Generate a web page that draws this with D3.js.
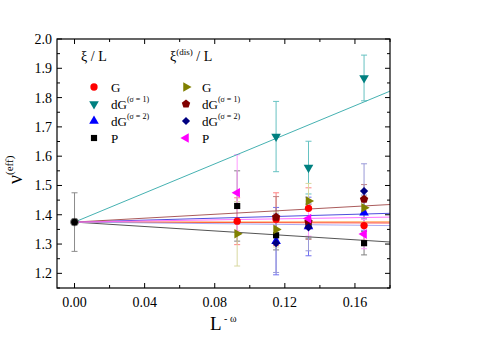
<!DOCTYPE html>
<html lang="en">
<head>
<meta charset="UTF-8">
<title>nu eff vs L^-omega</title>
<script src="https://d3js.org/d3.v7.min.js"></script>
<style>
  body { margin: 0; background: #fff; }
  text { font-family: "Liberation Serif", "DejaVu Serif", serif; fill: #000; }
</style>
</head>
<body>
<svg id="chart" width="491" height="347"></svg>
<script>
// x positions of the four system sizes (L^-omega)
const xVals = [0.0928, 0.115, 0.1335, 0.1652];

// extrapolated value at L -> infinity
const nuInf = 1.375, nuInfErr = 0.1;

// series values (null = no point) and their error bars
const gVal   = [1.378, 1.385, 1.422, 1.363];
const gErr   = [0.08, 0.09, 0.07, 0.05];
const dg1Val = [null, 1.667, 1.561, 1.867];
const dg1Err = [null, 0.12, 0.09, 0.078];
const dg2Val = [null, 1.31, 1.36, 1.407];
const dg2Err = [null, 0.115, 0.1, 0.06];
const pVal   = [1.43, 1.33, 1.37, 1.303];
const pErr   = [0.12, 0.05, 0.05, 0.04];
const gdVal   = [1.335, 1.35, 1.447, 1.424];
const gdErr   = [0.11, 0.06, 0.06, 0.04];
const dgd1Val = [null, 1.392, 1.376, 1.453];
const dgd1Err = [null, 0.07, 0.06, 0.05];
const dgd2Val = [null, 1.303, 1.357, 1.481];
const dgd2Err = [null, 0.1, 0.08, 0.093];
const pdVal   = [1.475, null, 1.387, 1.334];
const pdErr   = [0.13, null, 0.06, 0.05];

// linear fits through nuInf, value at the right edge (x = 0.18)
const fitEnds = [1.372, 1.822, 1.405, 1.307, 1.376, 1.435, 1.363, 1.392];

const xTicks = [0.00, 0.04, 0.08, 0.12, 0.16];
const yTicks = [1.2, 1.3, 1.4, 1.5, 1.6, 1.7, 1.8, 1.9, 2.0];

const series = [
  { key: "G",    vals: gVal,    errs: gErr,    color: "#ff0000", errColor: "#ff8080", fitColor: "#ff2020", shape: "circle" },
  { key: "dG1",  vals: dg1Val,  errs: dg1Err,  color: "#008080", errColor: "#66c2c2", fitColor: "#30a8a8", shape: "down" },
  { key: "dG2",  vals: dg2Val,  errs: dg2Err,  color: "#0000ff", errColor: "#7070f0", fitColor: "#3a3ad8", shape: "up" },
  { key: "P",    vals: pVal,    errs: pErr,    color: "#000000", errColor: "#808080", fitColor: "#404040", shape: "square" },
  { key: "Gd",   vals: gdVal,   errs: gdErr,   color: "#808000", errColor: "#d8d8a0", fitColor: "#ff9a40", shape: "right" },
  { key: "dGd1", vals: dgd1Val, errs: dgd1Err, color: "#800000", errColor: "#c08080", fitColor: "#a04848", shape: "pentagon" },
  { key: "dGd2", vals: dgd2Val, errs: dgd2Err, color: "#000080", errColor: "#9a9ad8", fitColor: "#a0a0f0", shape: "diamond" },
  { key: "Pd",   vals: pdVal,   errs: pdErr,   color: "#ff00ff", errColor: "#ff9cff", fitColor: "#ff60ff", shape: "left" }
];

const svg = d3.select("#chart");
const margin = { left: 57, right: 101, top: 39, bottom: 59 };
const W = 491 - margin.left - margin.right;
const H = 347 - margin.top - margin.bottom;

const x = d3.scaleLinear().domain([-0.01, 0.18]).range([0, W]);
const y = d3.scaleLinear().domain([1.15, 2.0]).range([H, 0]);

const g = svg.append("g").attr("transform", `translate(${margin.left},${margin.top})`);

// marker shapes
function pentagon(r) {
  const pts = d3.range(5).map(i => {
    const a = -Math.PI / 2 + i * 2 * Math.PI / 5;
    return [r * Math.cos(a), r * Math.sin(a)];
  });
  return "M" + pts.join("L") + "Z";
}
function markerPath(shape) {
  switch (shape) {
    case "circle": return d3.symbol(d3.symbolCircle, 42)();
    case "square": return d3.symbol(d3.symbolSquare, 38)();
    case "diamond": return d3.symbol(d3.symbolSquare, 34)();
    case "pentagon": return pentagon(4.4);
    default: return d3.symbol(d3.symbolTriangle, 40)();
  }
}
const rotation = { down: 180, right: 90, left: -90, up: 0, diamond: 45 };

// error bars
series.forEach(s => {
  s.vals.forEach((v, i) => {
    if (v == null) return;
    const px = x(xVals[i]);
    const eg = g.append("g").attr("stroke", s.errColor).attr("stroke-width", 1);
    eg.append("line").attr("x1", px).attr("x2", px).attr("y1", y(v - s.errs[i])).attr("y2", y(v + s.errs[i]));
    [v - s.errs[i], v + s.errs[i]].forEach(e => {
      eg.append("line").attr("x1", px - 3).attr("x2", px + 3).attr("y1", y(e)).attr("y2", y(e));
    });
  });
});

// infinite-size point error bar
const ig = g.append("g").attr("stroke", "#8c8c8c").attr("stroke-width", 1);
ig.append("line").attr("x1", x(0)).attr("x2", x(0)).attr("y1", y(nuInf - nuInfErr)).attr("y2", y(nuInf + nuInfErr));
[nuInf - nuInfErr, nuInf + nuInfErr].forEach(e => {
  ig.append("line").attr("x1", x(0) - 3).attr("x2", x(0) + 3).attr("y1", y(e)).attr("y2", y(e));
});

// fit lines
series.forEach((s, k) => {
  g.append("line")
    .attr("x1", x(0)).attr("y1", y(nuInf))
    .attr("x2", x(0.18)).attr("y2", y(fitEnds[k]))
    .attr("stroke", s.fitColor).attr("stroke-width", 0.9);
});

// markers
series.forEach(s => {
  s.vals.forEach((v, i) => {
    if (v == null) return;
    g.append("path")
      .attr("d", markerPath(s.shape))
      .attr("transform", `translate(${x(xVals[i])},${y(v)}) rotate(${rotation[s.shape] || 0})`)
      .attr("fill", s.color);
  });
});

g.append("circle").attr("cx", x(0)).attr("cy", y(nuInf)).attr("r", 4)
  .attr("fill", "#000").attr("stroke", "#888").attr("stroke-width", 0.8);

// frame
g.append("rect").attr("width", W).attr("height", H)
  .attr("fill", "none").attr("stroke", "#000").attr("stroke-width", 1.2);

// ticks (inward, on all four sides)
const xMinor = d3.range(0, 0.181, 0.02);
const yMinor = d3.range(1.15, 2.001, 0.05);
const tg = g.append("g").attr("stroke", "#000").attr("stroke-width", 1);
xMinor.forEach(t => {
  const major = xTicks.some(m => Math.abs(m - t) < 1e-6);
  const len = major ? 5 : 3;
  tg.append("line").attr("x1", x(t)).attr("x2", x(t)).attr("y1", H).attr("y2", H - len);
  tg.append("line").attr("x1", x(t)).attr("x2", x(t)).attr("y1", 0).attr("y2", len);
});
yMinor.forEach(t => {
  const major = yTicks.some(m => Math.abs(m - t) < 1e-6);
  const len = major ? 5 : 3;
  tg.append("line").attr("x1", 0).attr("x2", len).attr("y1", y(t)).attr("y2", y(t));
  tg.append("line").attr("x1", W).attr("x2", W - len).attr("y1", y(t)).attr("y2", y(t));
});

// tick labels
g.selectAll("text.xl").data(xTicks).enter().append("text")
  .attr("class", "xl").attr("x", d => x(d)).attr("y", H + 19)
  .attr("text-anchor", "middle").attr("font-size", 14)
  .text(d => d3.format(".2f")(d));
g.selectAll("text.yl").data(yTicks).enter().append("text")
  .attr("class", "yl").attr("x", -5).attr("y", d => y(d) + 5)
  .attr("text-anchor", "end").attr("font-size", 14)
  .text(d => d3.format(".1f")(d));

// axis titles
const xt = svg.append("text").attr("x", 210).attr("y", 330).attr("font-size", 19);
xt.append("tspan").text("L");
xt.append("tspan").attr("dy", -8).attr("font-size", 10).text(" - ω");

const yt = svg.append("text").attr("transform", "translate(22,184) rotate(-90)").attr("font-size", 20);
yt.append("tspan").text("ν");
yt.append("tspan").attr("dy", -9).attr("font-size", 11).text("(eff)");

// legend
const legend = svg.append("g");
legend.append("text").attr("x", 81).attr("y", 61).attr("font-size", 14).text("ξ / L");
const h2 = legend.append("text").attr("x", 170).attr("y", 61).attr("font-size", 14);
h2.append("tspan").text("ξ");
h2.append("tspan").attr("dy", -6).attr("font-size", 9).text("(dis)");
h2.append("tspan").attr("dy", 6).text(" / L");

const legendLabels = [["G", null], ["dG", "(σ = 1)"], ["dG", "(σ = 2)"], ["P", null]];
const rowsY = [87, 104, 121, 138];
series.forEach((s, k) => {
  const col = k < 4 ? 0 : 1;
  const row = k % 4;
  const mx = col === 0 ? 94 : 186;
  const lx = col === 0 ? 111 : 202;
  legend.append("path")
    .attr("d", markerPath(s.shape))
    .attr("transform", `translate(${mx},${rowsY[row]}) rotate(${rotation[s.shape] || 0})`)
    .attr("fill", s.color);
  const t = legend.append("text").attr("x", lx).attr("y", rowsY[row] + 5).attr("font-size", 13);
  t.append("tspan").text(legendLabels[row][0]);
  if (legendLabels[row][1]) {
    t.append("tspan").attr("dy", -7).attr("font-size", 8).text(legendLabels[row][1]);
  }
});
</script>
</body>
</html>
